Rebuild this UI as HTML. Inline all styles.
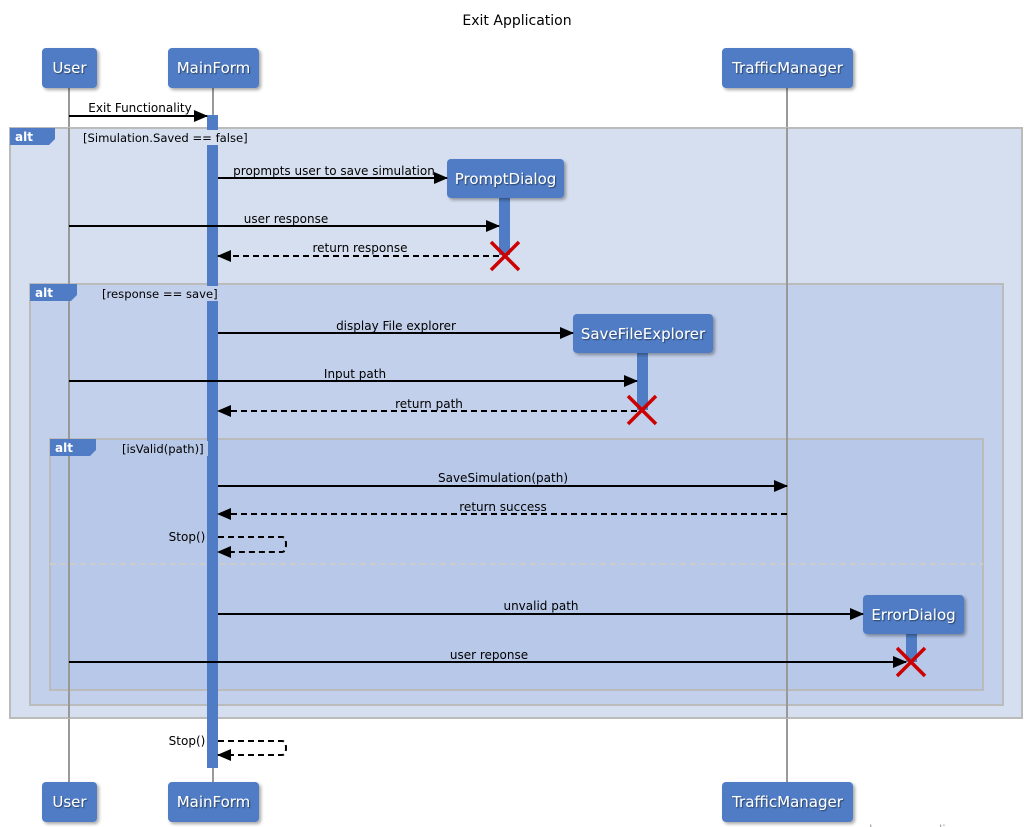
<!DOCTYPE html>
<html><head><meta charset="utf-8"><style>
html,body{margin:0;padding:0;background:#fff;}
svg{display:block;font-family:"DejaVu Sans","Liberation Sans",sans-serif;}
</style></head><body>
<svg width="1034" height="827" viewBox="0 0 1034 827" xmlns="http://www.w3.org/2000/svg">
<defs>
<marker id="a" markerWidth="14" markerHeight="12" refX="13" refY="6" orient="auto" markerUnits="userSpaceOnUse"><path d="M0,0 L14,6 L0,12 z" fill="#000"/></marker>
<filter id="sh" x="-10%" y="-10%" width="130%" height="140%"><feDropShadow dx="2" dy="2" stdDeviation="1.5" flood-color="#000" flood-opacity="0.35"/></filter>
<filter id="ts" x="-5%" y="-20%" width="110%" height="150%"><feDropShadow dx="1" dy="1" stdDeviation="0.6" flood-color="#000" flood-opacity="0.5"/></filter>
</defs>
<text x="517" y="25" text-anchor="middle" font-size="14" fill="#000">Exit Application</text>
<!-- lifelines -->
<g stroke="#999" stroke-width="2">
<line x1="69" y1="88" x2="69" y2="782"/>
<line x1="213" y1="88" x2="213" y2="782"/>
<line x1="787" y1="88" x2="787" y2="782"/>
</g>
<!-- frames -->
<rect x="10" y="128" width="1012" height="590" fill="#d6dff0" stroke="#bbb" stroke-width="2"/>
<rect x="30" y="284" width="973" height="421" fill="#c3d0eb" stroke="#bbb" stroke-width="2"/>
<rect x="50" y="439" width="933" height="251" fill="#b8c8e8" stroke="#bbb" stroke-width="2"/>
<line x1="50" y1="564" x2="983" y2="564" stroke="#ccc" stroke-width="2" stroke-dasharray="6,4"/>
<g stroke="#999" stroke-width="2">
<line x1="69" y1="128" x2="69" y2="718"/>
<line x1="787" y1="128" x2="787" y2="718"/>
</g>
<!-- activations -->
<g fill="#4f7cc4">
<rect x="207" y="115" width="11" height="653"/>
<rect x="499" y="198" width="11" height="57"/>
<rect x="637" y="353" width="11" height="57"/>
<rect x="906" y="634" width="11" height="28"/>
</g>
<g fill="#4f7cc4">
<path d="M10,128 H55 V139 L49,145 H10 z"/>
<path d="M30,284 H77 V295 L71,301 H30 z"/>
<path d="M50,439 H96 V450 L90,456 H50 z"/>
</g>
<g font-size="12" font-weight="bold" fill="#fff">
<text x="15" y="141">alt</text><text x="35" y="297">alt</text><text x="55" y="452">alt</text>
</g>
<rect x="200" y="130" width="50" height="15" fill="#d6dff0"/>
<rect x="200" y="286" width="20" height="15" fill="#c3d0eb"/>
<rect x="200" y="441" width="8" height="15" fill="#b8c8e8"/>
<g font-size="11.6" fill="#000">
<text x="83" y="142">[Simulation.Saved == false]</text>
<text x="102" y="298">[response == save]</text>
<text x="122" y="453">[isValid(path)]</text>
</g>
<!-- boxes -->
<g fill="#4f7cc4" filter="url(#sh)">
<rect x="42" y="48" width="55" height="40" rx="4"/>
<rect x="168" y="48" width="91" height="40" rx="4"/>
<rect x="722" y="48" width="131" height="40" rx="4"/>
<rect x="42" y="782" width="55" height="40" rx="4"/>
<rect x="168" y="782" width="91" height="40" rx="4"/>
<rect x="722" y="782" width="131" height="40" rx="4"/>
<rect x="447" y="159" width="117" height="39" rx="4"/>
<rect x="573" y="314" width="140" height="39" rx="4"/>
<rect x="863" y="595" width="101" height="39" rx="4"/>
</g>
<g font-size="15" fill="#fff" text-anchor="middle" filter="url(#ts)">
<text x="69.5" y="73">User</text><text x="213.5" y="73">MainForm</text><text x="787.5" y="73">TrafficManager</text>
<text x="69.5" y="807">User</text><text x="213.5" y="807">MainForm</text><text x="787.5" y="807">TrafficManager</text>
<text x="505.5" y="184">PromptDialog</text><text x="643" y="339">SaveFileExplorer</text><text x="913.5" y="620">ErrorDialog</text>
</g>
<!-- messages -->
<g stroke="#000" stroke-width="2" fill="none">
<line x1="69" y1="116" x2="207" y2="116" marker-end="url(#a)"/>
<line x1="218" y1="178" x2="447" y2="178" marker-end="url(#a)"/>
<line x1="69" y1="226" x2="499" y2="226" marker-end="url(#a)"/>
<line x1="499" y1="256" x2="218" y2="256" stroke-dasharray="6,4" marker-end="url(#a)"/>
<line x1="218" y1="333" x2="573" y2="333" marker-end="url(#a)"/>
<line x1="69" y1="381" x2="637" y2="381" marker-end="url(#a)"/>
<line x1="637" y1="411" x2="218" y2="411" stroke-dasharray="6,4" marker-end="url(#a)"/>
<line x1="218" y1="486" x2="787" y2="486" marker-end="url(#a)"/>
<line x1="787" y1="514" x2="218" y2="514" stroke-dasharray="6,4" marker-end="url(#a)"/>
<path d="M218,537 H282 Q286,537 286,544 Q286,552 282,552 H218" stroke-dasharray="6,4" marker-end="url(#a)"/>
<line x1="218" y1="614" x2="863" y2="614" marker-end="url(#a)"/>
<line x1="69" y1="662" x2="906" y2="662" marker-end="url(#a)"/>
<path d="M218,741 H282 Q286,741 286,748 Q286,755 282,755 H218" stroke-dasharray="6,4" marker-end="url(#a)"/>
</g>
<g font-size="12" fill="#000" text-anchor="middle">
<text x="140" y="112">Exit  Functionality</text>
<text x="334" y="175">propmpts user to save simulation</text>
<text x="286" y="223">user response</text>
<text x="360" y="252">return response</text>
<text x="396" y="330">display File explorer</text>
<text x="355" y="378">Input path</text>
<text x="429" y="408">return path</text>
<text x="503" y="482">SaveSimulation(path)</text>
<text x="503" y="511">return success</text>
<text x="541" y="610">unvalid path</text>
<text x="489" y="659">user reponse</text>
<text x="187" y="541">Stop()</text>
<text x="187" y="745">Stop()</text>
</g>
<!-- destroy X -->
<g stroke="#c00" stroke-width="3.5">
<path d="M491,242 L519,270 M519,242 L491,270"/>
<path d="M628,396 L656,424 M656,396 L628,424"/>
<path d="M897,648 L925,676 M925,648 L897,676"/>
</g>
<text x="920" y="834" font-size="12" fill="#999" text-anchor="middle">www.websequencediagrams.com</text>
</svg>
</body></html>
